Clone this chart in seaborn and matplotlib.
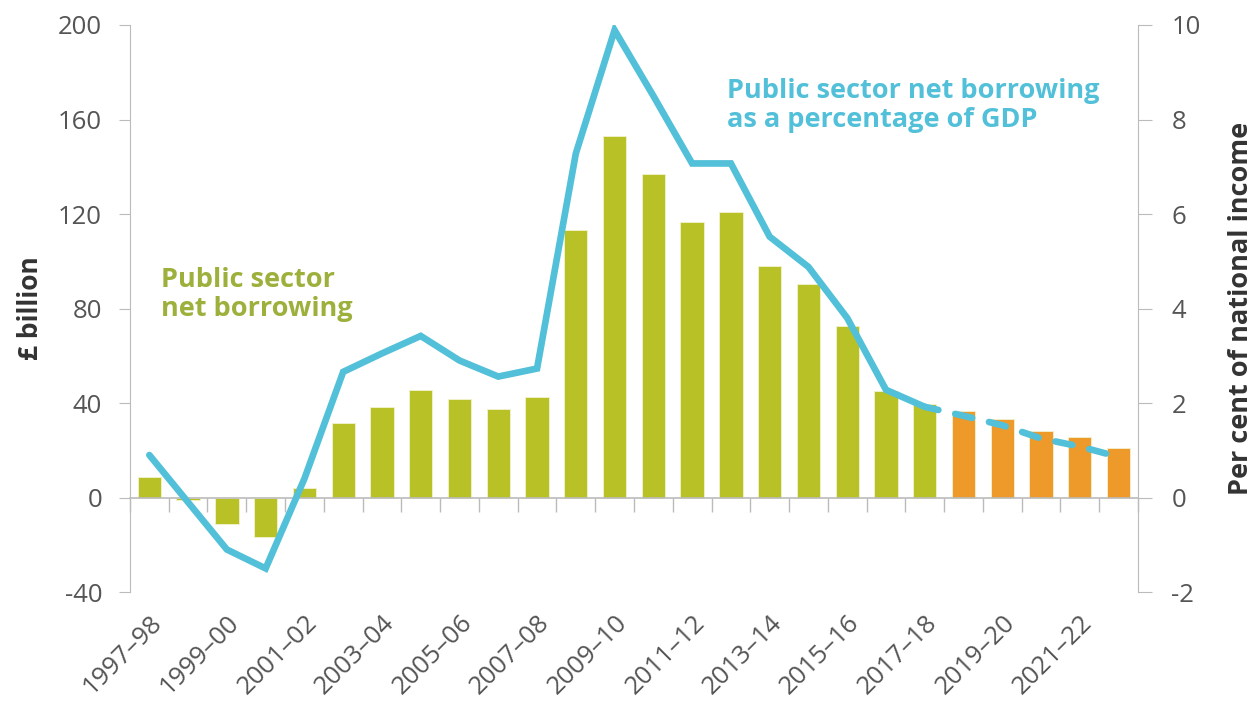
import numpy as np
import pandas as pd
import matplotlib
matplotlib.use("Agg")
import matplotlib.pyplot as plt
import seaborn as sns

years = ["1997–98", "1998–99", "1999–00", "2000–01", "2001–02", "2002–03", "2003–04",
         "2004–05", "2005–06", "2006–07", "2007–08", "2008–09", "2009–10", "2010–11",
         "2011–12", "2012–13", "2013–14", "2014–15", "2015–16", "2016–17", "2017–18",
         "2018–19", "2019–20", "2020–21", "2021–22", "2022–23"]
borrowing_bn = [8.5, -1.0, -11.0, -16.5, 4.0, 31.5, 38.5, 45.6, 41.5, 37.5, 42.7,
                113.4, 153.2, 137.1, 116.7, 120.9, 97.9, 90.3, 72.4, 45.3, 39.7,
                36.7, 33.3, 28.2, 25.7, 21.0]
borrowing_pct = [0.9, -0.1, -1.1, -1.5, 0.4, 2.66, 3.05, 3.42, 2.9, 2.56, 2.73,
                 7.28, 9.89, 8.5, 7.07, 7.07, 5.52, 4.88, 3.8, 2.28, 1.92,
                 1.73, 1.53, 1.25, 1.08, 0.86]
status = ["Outturn"] * 21 + ["Forecast"] * 5
label_years = years[::2]

GREEN = "#B8C227"
ORANGE = "#EE9A2A"
BLUE = "#52C0D8"
GREEN_TXT = "#9DB03C"
GRAY = "#BBBBBB"
TXT = "#555555"

sns.set_style("white")
plt.rcParams["font.family"] = ["Open Sans", "DejaVu Sans"]
plt.rcParams["axes.unicode_minus"] = False

df = pd.DataFrame({"year": years, "bn": borrowing_bn, "pct": borrowing_pct,
                   "status": status, "pos": np.arange(len(years))})

fig = plt.figure(figsize=(12.58, 7.04), dpi=100)
ax = fig.add_axes([0.1033, 0.159, 0.9046 - 0.1033, 0.9645 - 0.159])

sns.barplot(data=df, x="year", y="bn", hue="status", palette={"Outturn": GREEN, "Forecast": ORANGE},
            dodge=False, width=0.6, legend=False, ax=ax, edgecolor="#F2F2D0", linewidth=0.6,
            saturation=1)
ax.set_ylim(-40, 200)
ax.set_xlim(-0.5, len(years) - 0.5)
ax.set_yticks([-40, 0, 40, 80, 120, 160, 200])
ax.tick_params(axis="y", length=8, color=GRAY, labelsize=18.5, labelcolor=TXT, left=True, pad=12)
ax.set_ylabel("£ billion", fontsize=19, fontweight="bold", color="#333333", labelpad=10)
ax.set_xlabel("")

ax.spines["top"].set_visible(False)
ax.spines["left"].set_color(GRAY)
ax.spines["right"].set_visible(False)
ax.spines["bottom"].set_position(("data", 0))
ax.spines["bottom"].set_color(GRAY)
ax.spines["bottom"].set_linewidth(1.2)
ax.set_xticks(np.arange(len(years) + 1) - 0.5)
ax.set_xticklabels([])
ax.tick_params(axis="x", length=10, color=GRAY, direction="out", bottom=True, width=1)

sec = ax.secondary_xaxis(0.0, transform=ax.transAxes)
sec.set_xticks(np.arange(0, len(years), 2))
sec.set_xticklabels(label_years, rotation=45, ha="right", rotation_mode="anchor")
sec.spines["bottom"].set_visible(False)
sec.tick_params(axis="x", length=0, labelsize=18.5, labelcolor=TXT, pad=13)

ax2 = ax.twinx()
ax2.set_ylim(-2, 10)
ax2.set_yticks([-2, 0, 2, 4, 6, 8, 10])
ax2.tick_params(axis="y", length=10, color=GRAY, labelsize=18.5, labelcolor=TXT, right=True, pad=14)
for s in ["top", "left", "bottom"]:
    ax2.spines[s].set_visible(False)
ax2.spines["right"].set_color(GRAY)
ax2.set_ylabel("Per cent of national income", fontsize=19.5, fontweight="bold", color="#333333",
               labelpad=20)

solid = df[df["pos"] <= 20]
dashed = df[df["pos"] >= 20]
sns.lineplot(data=solid, x="pos", y="pct", color=BLUE, linewidth=4.8, ax=ax2,
             solid_capstyle="round", solid_joinstyle="miter")
sns.lineplot(data=dashed, x="pos", y="pct", color=BLUE, linewidth=4.8, ax=ax2,
             dashes=False, linestyle=(0.5, (2.6, 2.6)), dash_capstyle="round")
ax2.set_xlim(-0.5, len(years) - 0.5)
ax2.set_xlabel("")

ax.text(0.3, 86, "Public sector\nnet borrowing", fontsize=19.5, fontweight="bold", color=GREEN_TXT,
        ha="left", va="center", linespacing=1.15)
ax2.text(14.9, 8.3, "Public sector net borrowing\nas a percentage of GDP", fontsize=19.5,
         fontweight="bold", color=BLUE, ha="left", va="center", linespacing=1.15)

fig.savefig("out.png", dpi=100)
